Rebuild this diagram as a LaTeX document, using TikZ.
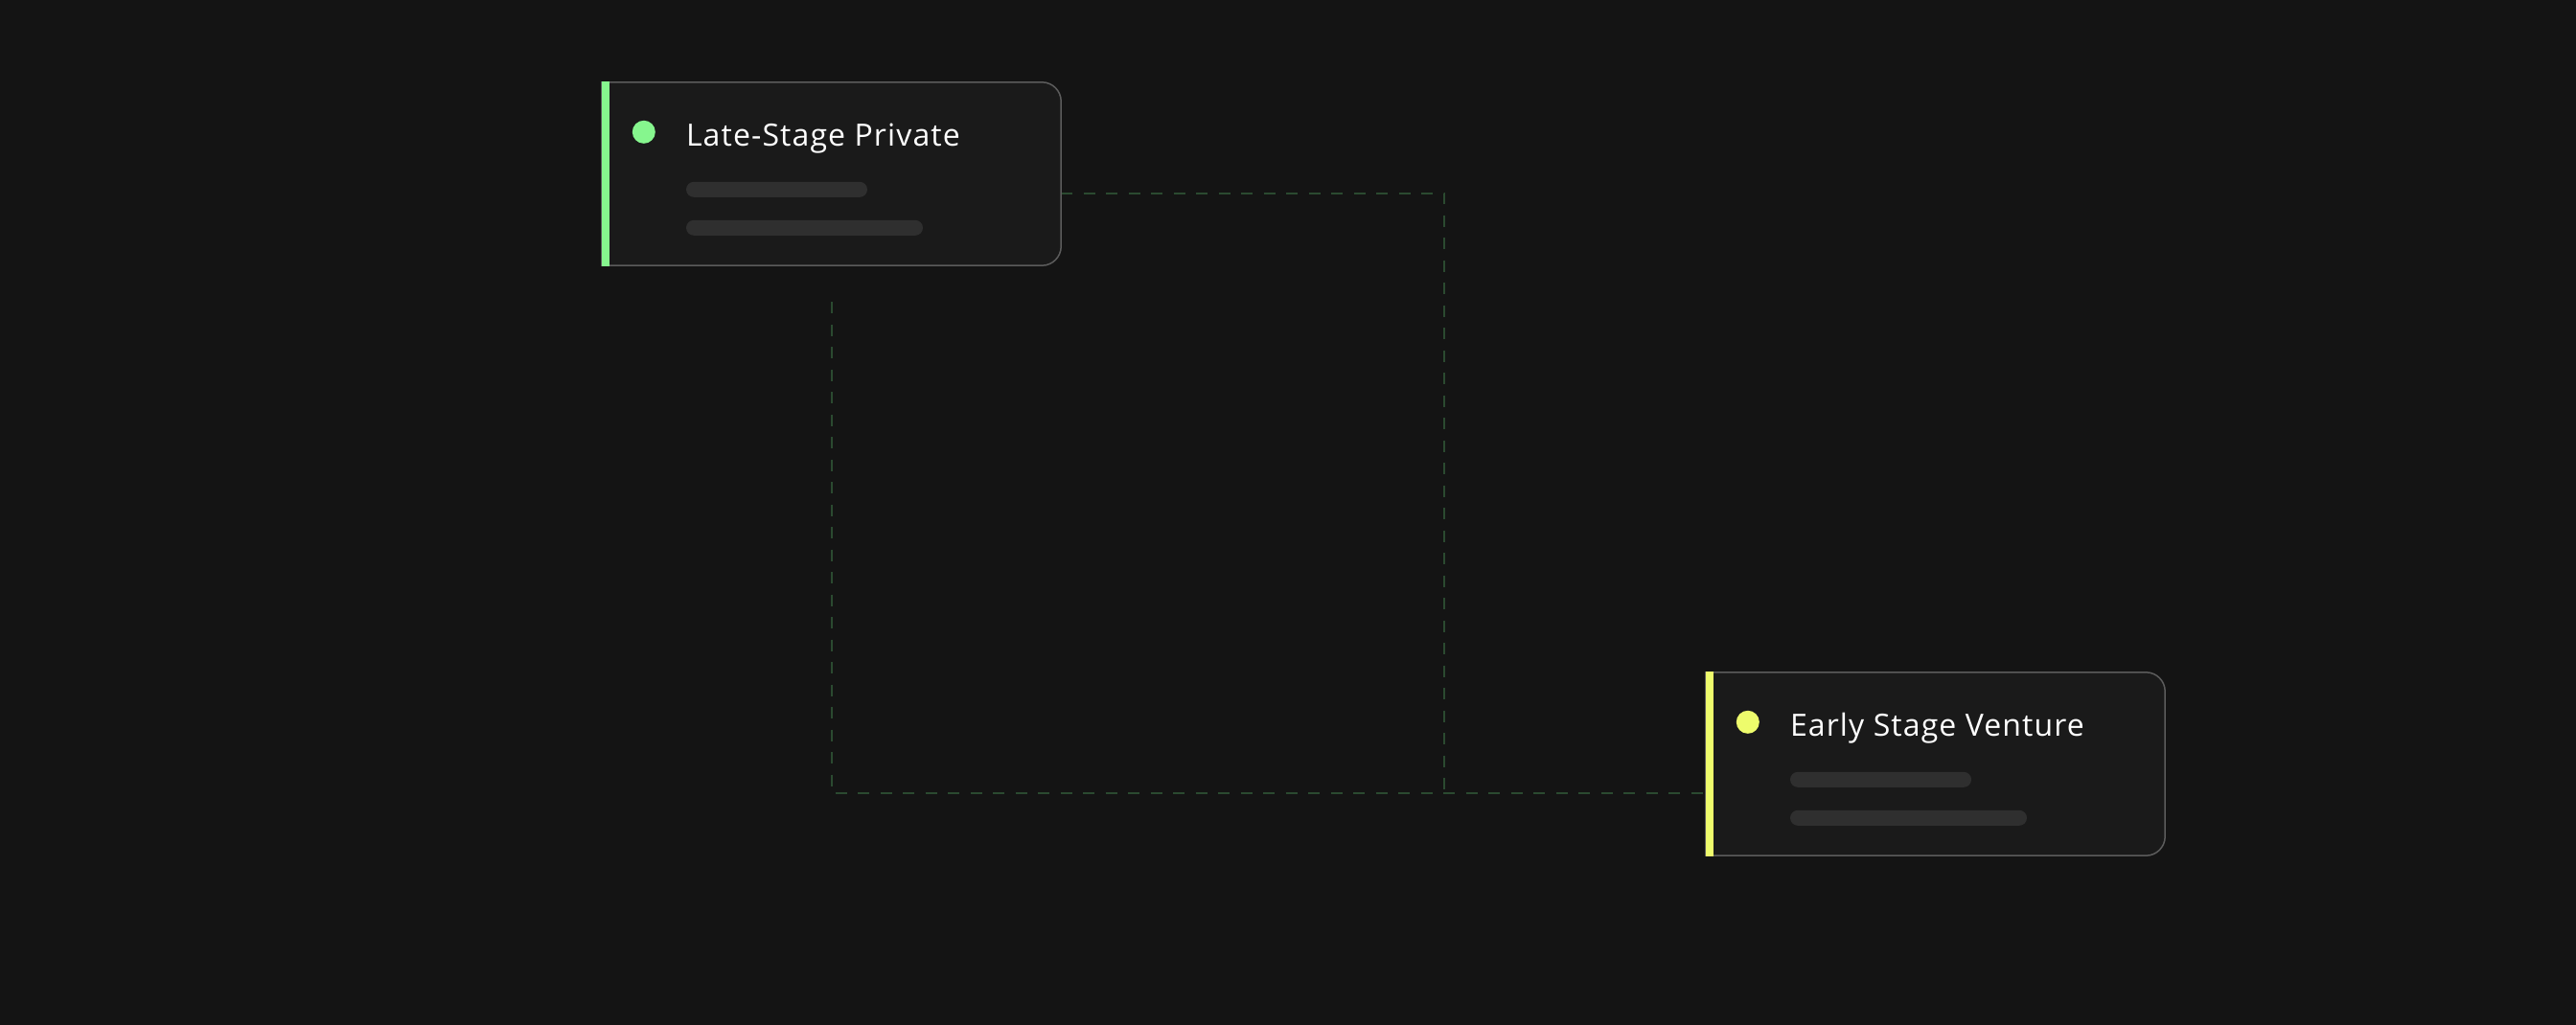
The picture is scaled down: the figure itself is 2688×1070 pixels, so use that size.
\documentclass[tikz,border=0pt]{standalone}
\usepackage{fontspec}
\setmainfont{Open Sans}[LetterSpace=3.5]
\usetikzlibrary{positioning}

\definecolor{pagebg}{HTML}{141414}
\definecolor{cardbg}{HTML}{1A1A1A}
\definecolor{cardline}{HTML}{5C5C5C}
\definecolor{skeleton}{HTML}{2F2F2F}
\definecolor{linkgreen}{HTML}{2B4A30}
\definecolor{lategreen}{HTML}{86F68E}
\definecolor{earlyyellow}{HTML}{EEFC6C}

\tikzset{
  card/.style={rectangle, minimum width=479pt, minimum height=191pt, inner sep=0pt},
  cardshape/.style={fill=cardbg, draw=cardline, line width=1.5pt},
  dot/.style={circle, minimum size=24pt, inner sep=0pt},
  title/.style={anchor=base west, inner sep=0pt, text=white, font=\fontsize{32pt}{38pt}\selectfont},
  skel/.style={rectangle, fill=skeleton, rounded corners=8pt, minimum height=16pt, inner sep=0pt, anchor=west},
  link/.style={draw=linkgreen, line width=2pt, dash pattern=on 12pt off 11.5pt},
}

\begin{document}
\begin{tikzpicture}[x=1pt, y=-1pt]
    \useasboundingbox (0,0) rectangle (2688,1070);
    \fill[pagebg] (0,0) rectangle (2688,1070);

    \node(late)[card] at (867.5,181.5) {};
    \node(early)[card] at (2019.5,797.5) {};

    % dashed links
    \coordinate(latedrop) at ([yshift=-38pt]late.south);
    \coordinate(turn) at (1507,828);
    \draw[link] ([yshift=-20pt]late.east) -| (turn);
    \draw[link] (latedrop) |- ([yshift=-30.5pt]early.west);

    % Late-Stage Private
    \draw[cardshape] (late.north west) -- ([xshift=-20pt]late.north east)
      arc[start angle=90, end angle=0, radius=20pt] -- ([yshift=20pt]late.south east)
      arc[start angle=0, end angle=-90, radius=20pt] -- (late.south west) -- cycle;
    \fill[lategreen] ([yshift=0.75pt]late.north west) rectangle ([xshift=8pt,yshift=-0.75pt]late.south west);
    \node(latedot)[dot, fill=lategreen] at ([xshift=44pt,yshift=-52pt]late.north west) {};
    \node(latetitle)[title] at ([xshift=88pt,yshift=-67pt]late.north west) {Late-Stage Private};
    \node(latebarA)[skel, minimum width=189pt] at ([xshift=88pt,yshift=-112pt]late.north west) {};
    \node(latebarB)[skel, minimum width=247pt] at ([xshift=88pt,yshift=-152pt]late.north west) {};

    % Early Stage Venture
    \draw[cardshape] (early.north west) -- ([xshift=-20pt]early.north east)
      arc[start angle=90, end angle=0, radius=20pt] -- ([yshift=20pt]early.south east)
      arc[start angle=0, end angle=-90, radius=20pt] -- (early.south west) -- cycle;
    \fill[earlyyellow] ([yshift=0.75pt]early.north west) rectangle ([xshift=8pt,yshift=-0.75pt]early.south west);
    \node(earlydot)[dot, fill=earlyyellow] at ([xshift=44pt,yshift=-52pt]early.north west) {};
    \node(earlytitle)[title] at ([xshift=88pt,yshift=-67pt]early.north west) {Early Stage Venture};
    \node(earlybarA)[skel, minimum width=189pt] at ([xshift=88pt,yshift=-112pt]early.north west) {};
    \node(earlybarB)[skel, minimum width=247pt] at ([xshift=88pt,yshift=-152pt]early.north west) {};
  \end{tikzpicture}
\end{document}
